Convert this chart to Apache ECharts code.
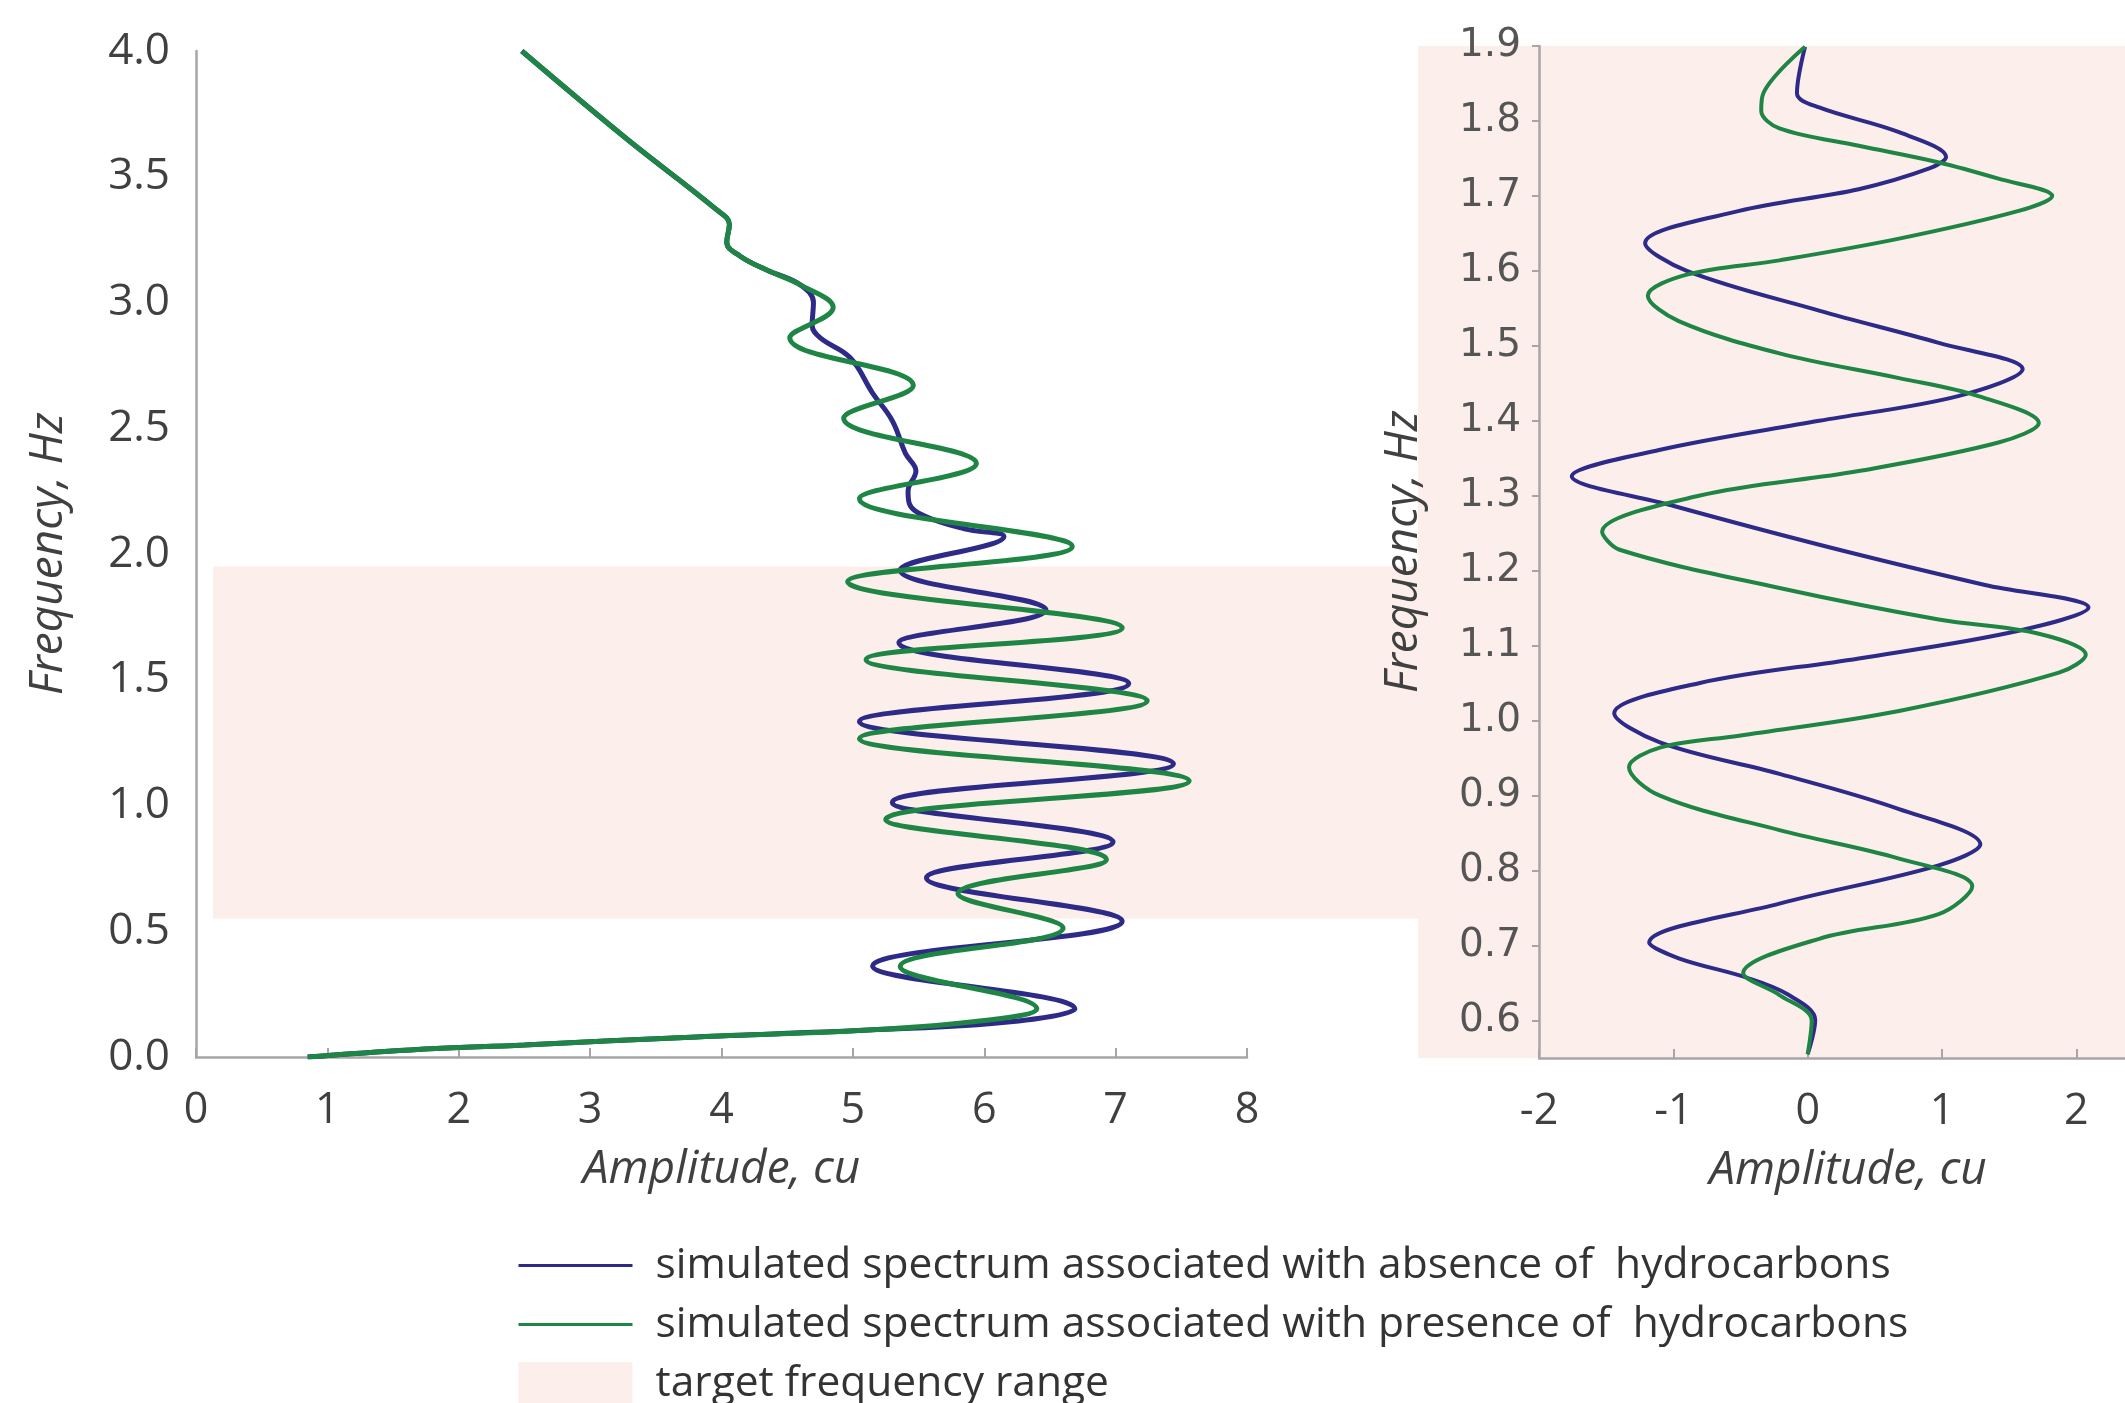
<!DOCTYPE html>
<html>
<head>
<meta charset="utf-8">
<script src="https://cdn.jsdelivr.net/npm/echarts@6/dist/echarts.min.js"></script>
<style>
  html, body { margin: 0; padding: 0; background: #fff; }
  #chart { width: 2125px; height: 1403px; }
</style>
</head>
<body>
<div id="chart"></div>
<script>
// values, as [amplitude, frequency] pairs (frequency ascending)
var wideAbsence = [
  [0.85, 0.0], [1.63, 0.028], [2.50, 0.048], [3.81, 0.08], [5.12, 0.107], [6.2, 0.14],
  [6.69, 0.192], [5.15, 0.362], [7.05, 0.54], [5.56, 0.712], [6.98, 0.855],
  [5.30, 1.012], [7.44, 1.165], [5.05, 1.334], [7.10, 1.485], [5.35, 1.647],
  [6.47, 1.777], [5.36, 1.935], [6.15, 2.07], [5.85, 2.10], [5.55, 2.15],
  [5.43, 2.20], [5.42, 2.25], [5.48, 2.33], [5.40, 2.40], [5.30, 2.53],
  [5.15, 2.64], [4.98, 2.78], [4.75, 2.86], [4.69, 2.91], [4.70, 3.00],
  [4.60, 3.07], [4.34, 3.13], [4.14, 3.185], [4.04, 3.24], [4.06, 3.31],
  [3.96, 3.37], [3.28, 3.65], [2.48, 4.0]
];
var widePresence = [
  [0.85, 0.0], [1.63, 0.028], [2.50, 0.048], [3.81, 0.08], [5.12, 0.107], [6.0, 0.145],
  [6.40, 0.192], [5.36, 0.36], [6.60, 0.513], [5.80, 0.65], [6.93, 0.785],
  [5.25, 0.944], [7.56, 1.097], [5.05, 1.266], [7.24, 1.416], [5.10, 1.58],
  [7.05, 1.706], [4.96, 1.89], [6.67, 2.03], [5.05, 2.22], [5.94, 2.36],
  [4.93, 2.54], [5.46, 2.67], [4.52, 2.86], [4.85, 2.98], [4.60, 3.07],
  [4.34, 3.13], [4.14, 3.185], [4.04, 3.24], [4.06, 3.31], [3.96, 3.37],
  [3.28, 3.65], [2.48, 4.0]
];
var zoomAbsence = [
  [0.0, 0.555], [0.056, 0.601], [-0.15, 0.635], [-0.45, 0.657], [-0.96, 0.683],
  [-1.18, 0.704], [-0.21, 0.756], [0.975, 0.807], [1.285, 0.835], [0.68, 0.882],
  [-0.21, 0.929], [-1.10, 0.971], [-1.44, 1.01], [-0.81, 1.05], [0.38, 1.083],
  [1.57, 1.12], [2.09, 1.151], [1.32, 1.181], [0.145, 1.232], [-1.03, 1.288],
  [-1.756, 1.326], [-1.106, 1.361], [0.085, 1.40], [1.12, 1.433], [1.60, 1.469],
  [0.975, 1.504], [0.085, 1.547], [-0.90, 1.60], [-1.21, 1.637], [-0.51, 1.68],
  [0.38, 1.709], [0.91, 1.737], [1.03, 1.752], [0.68, 1.785], [0.085, 1.818],
  [-0.08, 1.837], [-0.02, 1.899]
];
var zoomPresence = [
  [0.0, 0.555], [0.03, 0.60], [-0.21, 0.634], [-0.48, 0.663], [0.085, 0.709],
  [0.975, 0.742], [1.225, 0.779], [0.68, 0.816], [-0.21, 0.854], [-1.10, 0.90],
  [-1.33, 0.938], [-1.10, 0.964], [-0.51, 0.98], [0.68, 1.013], [1.87, 1.064],
  [2.07, 1.088], [1.72, 1.116], [0.975, 1.135], [-0.21, 1.177], [-1.40, 1.228],
  [-1.53, 1.252], [-0.81, 1.30], [0.38, 1.333], [1.42, 1.371], [1.72, 1.397],
  [1.27, 1.433], [0.68, 1.457], [-0.21, 1.49], [-0.96, 1.533], [-1.19, 1.567],
  [-0.90, 1.595], [-0.21, 1.614], [0.68, 1.643], [1.57, 1.68], [1.82, 1.70],
  [1.42, 1.723], [0.97, 1.745], [0.38, 1.767], [-0.21, 1.79], [-0.346, 1.814],
  [-0.33, 1.837], [-0.02, 1.899]
];
var targetBand = [0.55, 1.95];     // Hz, shaded on the wide panel
var zoomRange = [0.55, 1.9];       // Hz, the zoomed panel
var zoomFreqTicks = [0.6, 0.7, 0.8, 0.9, 1.0, 1.1, 1.2, 1.3, 1.4, 1.5, 1.6, 1.7, 1.8, 1.9];
var zoomAmpTicks = [-2, -1, 0, 1, 2];
var seriesNames = [
  'simulated spectrum associated with absence of  hydrocarbons',
  'simulated spectrum associated with presence of  hydrocarbons',
  'target frequency range'
];

var BLUE = '#2d2a88', GREEN = '#1f8544', PINK = '#fcefeb', AXIS = '#a6a6a6';
var labelFont = 'Open Sans';

function valueAxis(extra) {
  var base = {
    type: 'value',
    splitLine: { show: false },
    axisLine: { show: true, onZero: false, lineStyle: { color: AXIS, width: 2.5 } },
    axisTick: { show: false },
    nameLocation: 'middle',
    nameTextStyle: { fontSize: 46, color: '#404040', fontStyle: 'italic', fontFamily: labelFont }
  };
  return Object.assign(base, extra);
}
function hiddenAxis(extra) {
  return Object.assign({ type: 'value', show: false, splitLine: { show: false } }, extra);
}

var chart = echarts.init(document.getElementById('chart'));
chart.setOption({
  animation: false,
  grid: [
    { left: 196, width: 1051, top: 51, height: 1006, outerBoundsMode: 'none' },
    // the zoomed panel is cut by the right edge of the figure
    { left: 1539, width: 618, top: 46, height: 1012, outerBoundsMode: 'none' },
    { left: 213, width: 1912, top: 51, height: 1006, outerBoundsMode: 'none' },
    { left: 1418, width: 739, top: 46, height: 1012, outerBoundsMode: 'none' }
  ],
  xAxis: [
    valueAxis({
      gridIndex: 0, min: 0, max: 8, interval: 1,
      name: 'Amplitude, cu', nameGap: 90,
      axisTick: { show: true, inside: true, length: 9, lineStyle: { color: AXIS, width: 2 } },
      axisLabel: { margin: 32, fontSize: 43, color: '#404040', fontFamily: labelFont }
    }),
    valueAxis({
      gridIndex: 1, min: -2, max: 2.6,
      name: 'Amplitude, cu', nameGap: 90,
      axisTick: { show: true, inside: true, length: 9, customValues: zoomAmpTicks, lineStyle: { color: AXIS, width: 2 } },
      axisLabel: { margin: 32, fontSize: 43, color: '#404040', fontFamily: labelFont, customValues: zoomAmpTicks }
    }),
    hiddenAxis({ gridIndex: 2, min: 0, max: 1 }),
    hiddenAxis({ gridIndex: 3, min: 0, max: 1 })
  ],
  yAxis: [
    valueAxis({
      gridIndex: 0, min: 0, max: 4, interval: 0.5,
      name: 'Frequency, Hz', nameGap: 124,
      axisLabel: { margin: 26, fontSize: 44, color: '#404040', fontFamily: labelFont,
        formatter: function (v) { return v.toFixed(1); } }
    }),
    valueAxis({
      gridIndex: 1, min: zoomRange[0], max: zoomRange[1],
      name: 'Frequency, Hz', nameGap: 112,
      axisTick: { show: true, length: 7, customValues: zoomFreqTicks, lineStyle: { color: AXIS, width: 2 } },
      axisLabel: { margin: 18, fontSize: 39, color: '#555', fontFamily: 'DejaVu Sans',
        customValues: zoomFreqTicks, formatter: function (v) { return v.toFixed(1); } }
    }),
    hiddenAxis({ gridIndex: 2, min: 0, max: 4 }),
    hiddenAxis({ gridIndex: 3, min: zoomRange[0], max: zoomRange[1] })
  ],
  legend: {
    orient: 'vertical', left: 512, top: 1239, height: 164,
    itemWidth: 114, itemHeight: 43, itemGap: 16,
    lineStyle: { width: 3 },
    textStyle: { fontSize: 42.5, color: '#333', fontFamily: labelFont, padding: [0, 0, 0, 18] },
    data: [
      { name: seriesNames[0], itemStyle: { opacity: 0 } },
      { name: seriesNames[1], itemStyle: { opacity: 0 } },
      { name: seriesNames[2], icon: 'rect', itemStyle: { color: PINK } }
    ]
  },
  series: [
    {
      name: seriesNames[2], type: 'line', xAxisIndex: 2, yAxisIndex: 2, data: [],
      itemStyle: { color: PINK }, lineStyle: { color: PINK },
      markArea: { silent: true, z: -1, itemStyle: { color: PINK },
        data: [[{ yAxis: targetBand[0] }, { yAxis: targetBand[1] }]] }
    },
    {
      name: seriesNames[2], type: 'line', xAxisIndex: 3, yAxisIndex: 3, data: [],
      itemStyle: { color: PINK }, lineStyle: { color: PINK },
      markArea: { silent: true, z: -1, itemStyle: { color: PINK },
        data: [[{ yAxis: zoomRange[0] }, { yAxis: zoomRange[1] }]] }
    },
    {
      name: seriesNames[0], type: 'line', xAxisIndex: 0, yAxisIndex: 0,
      data: wideAbsence, smooth: 0.4, symbol: 'none',
      itemStyle: { color: BLUE }, lineStyle: { color: BLUE, width: 5 }
    },
    {
      name: seriesNames[1], type: 'line', xAxisIndex: 0, yAxisIndex: 0,
      data: widePresence, smooth: 0.4, symbol: 'none',
      itemStyle: { color: GREEN }, lineStyle: { color: GREEN, width: 5 }
    },
    {
      name: seriesNames[0], type: 'line', xAxisIndex: 1, yAxisIndex: 1,
      data: zoomAbsence, smooth: 0.35, symbol: 'none',
      itemStyle: { color: BLUE }, lineStyle: { color: BLUE, width: 4 }
    },
    {
      name: seriesNames[1], type: 'line', xAxisIndex: 1, yAxisIndex: 1,
      data: zoomPresence, smooth: 0.35, symbol: 'none',
      itemStyle: { color: GREEN }, lineStyle: { color: GREEN, width: 4 }
    }
  ]
});
</script>
</body>
</html>
